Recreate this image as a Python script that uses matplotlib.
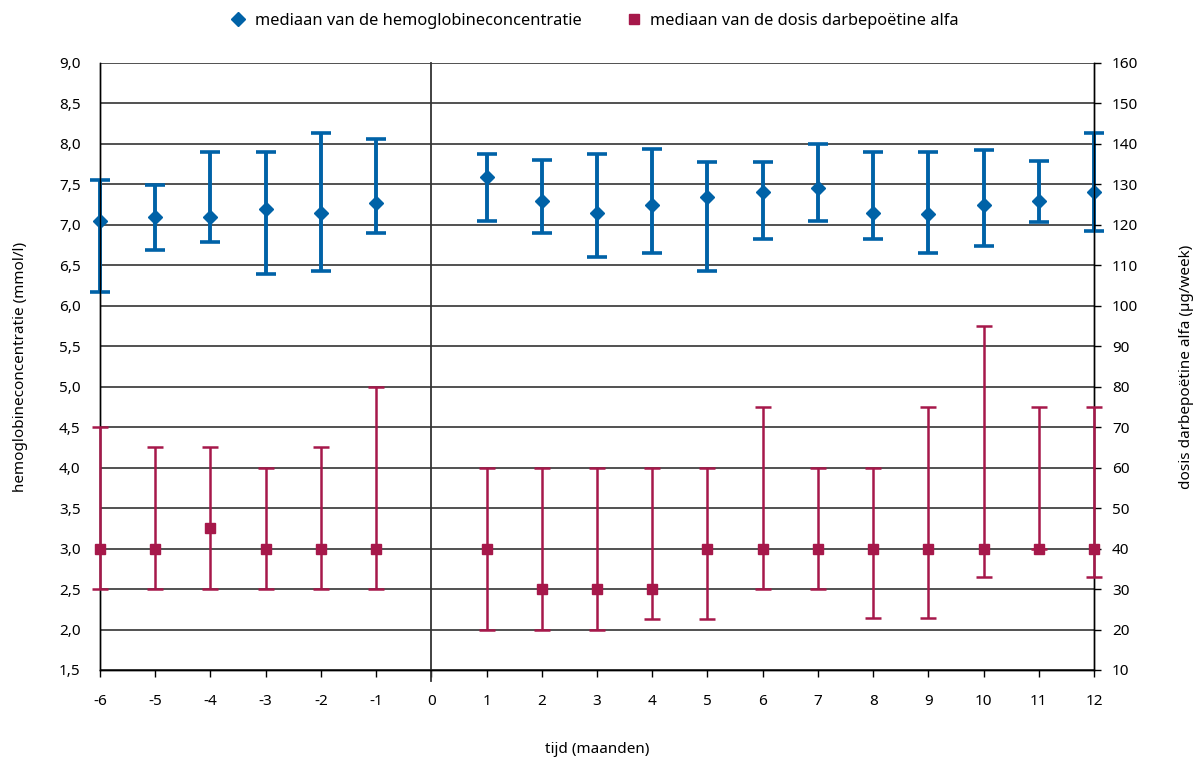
import numpy as np
import matplotlib.pyplot as plt
from matplotlib.ticker import FuncFormatter, MultipleLocator
from matplotlib.lines import Line2D

plt.rcParams['font.family'] = ['Noto Sans', 'DejaVu Sans']
plt.rcParams['axes.unicode_minus'] = False

months = [-6, -5, -4, -3, -2, -1, 1, 2, 3, 4, 5, 6, 7, 8, 9, 10, 11, 12]

# hemoglobine (mmol/l): mediaan, onder- en bovengrens
hb_med = [7.05, 7.10, 7.10, 7.20, 7.15, 7.27, 7.59, 7.30, 7.15, 7.25, 7.35, 7.40,
          7.45, 7.15, 7.14, 7.25, 7.30, 7.40]
hb_low = [6.17, 6.69, 6.79, 6.39, 6.43, 6.90, 7.05, 6.90, 6.60, 6.65, 6.43, 6.82,
          7.05, 6.83, 6.65, 6.74, 7.04, 6.93]
hb_high = [7.55, 7.49, 7.90, 7.90, 8.14, 8.06, 7.88, 7.80, 7.87, 7.94, 7.78, 7.78,
           8.00, 7.90, 7.90, 7.92, 7.79, 8.14]

# darbepoetine (ug/week): mediaan, onder- en bovengrens
dose_med = [40, 40, 45, 40, 40, 40, 40, 30, 30, 30, 40, 40, 40, 40, 40, 40, 40, 40]
dose_low = [30, 30, 30, 30, 30, 30, 20, 20, 20, 22.7, 22.7, 30, 30, 22.9, 22.9, 33, 40, 33]
dose_high = [70, 65, 65, 60, 65, 80, 60, 60, 60, 60, 60, 75, 60, 60, 75, 95, 75, 75]

blue = '#0062a7'
red = '#a6184a'

hb_med = np.array(hb_med)
dose_med = np.array(dose_med)
hb_err = [hb_med - np.array(hb_low), np.array(hb_high) - hb_med]
dose_err = [dose_med - np.array(dose_low), np.array(dose_high) - dose_med]

fig = plt.figure(figsize=(11.97, 7.58), dpi=100)
ax = fig.add_axes([0.0835, 0.1161, 0.8305, 0.8008])
ax2 = ax.twinx()

comma = FuncFormatter(lambda v, p: ('%.1f' % v).replace('.', ','))

ax.set_xlim(-6, 12)
ax.set_ylim(1.5, 9.0)
ax.yaxis.set_major_locator(MultipleLocator(0.5))
ax.yaxis.set_major_formatter(comma)
ax.set_xticks(range(-6, 13))
ax.grid(axis='y', color='#222222', linewidth=1.1)
ax.set_axisbelow(True)
ax.axvline(0, ymin=-0.018, color='#333333', linewidth=1.3, clip_on=False)

ax.errorbar(months, hb_med, yerr=hb_err, fmt='D', color=blue, ecolor=blue,
            markersize=7.5, elinewidth=2.8, capsize=7, capthick=2.6,
            clip_on=False, zorder=3)

ax2.set_ylim(10, 160)
ax2.yaxis.set_major_locator(MultipleLocator(10))
ax2.errorbar(months, dose_med, yerr=dose_err, fmt='s', color=red, ecolor=red,
             markersize=7, elinewidth=1.8, capsize=5.5, capthick=1.8,
             clip_on=False, zorder=3)

for a in (ax, ax2):
    for s in a.spines.values():
        s.set_color('black')
        s.set_linewidth(1.0)
    a.spines['top'].set_visible(False)

ax.tick_params(axis='y', length=0, labelsize=11, pad=14)
ax.tick_params(axis='x', length=5, width=1, direction='out', labelsize=11, pad=12)
ax2.tick_params(axis='y', length=5, width=1, direction='out', labelsize=11, pad=8)

ax.set_ylabel('hemoglobineconcentratie (mmol/l)', fontsize=11)
ax.yaxis.set_label_coords(-0.072, 0.5)
ax2.set_ylabel('dosis darbepoëtine alfa (µg/week)', fontsize=11)
ax2.yaxis.set_label_coords(1.085, 0.5)
ax.set_xlabel('tijd (maanden)', fontsize=11, labelpad=24)

labels = ['mediaan van de hemoglobineconcentratie', 'mediaan van de dosis darbepoëtine alfa']
handles = [Line2D([], [], marker='D', color=blue, linestyle='none', markersize=7.5),
           Line2D([], [], marker='s', color=red, linestyle='none', markersize=7)]
fig.legend(handles, labels, loc='upper center', bbox_to_anchor=(0.496, 1.002), ncol=2,
           frameon=False, fontsize=11.8, columnspacing=2.6, handletextpad=0.4,
           handlelength=1.2)

fig.savefig('out.png', dpi=100)
